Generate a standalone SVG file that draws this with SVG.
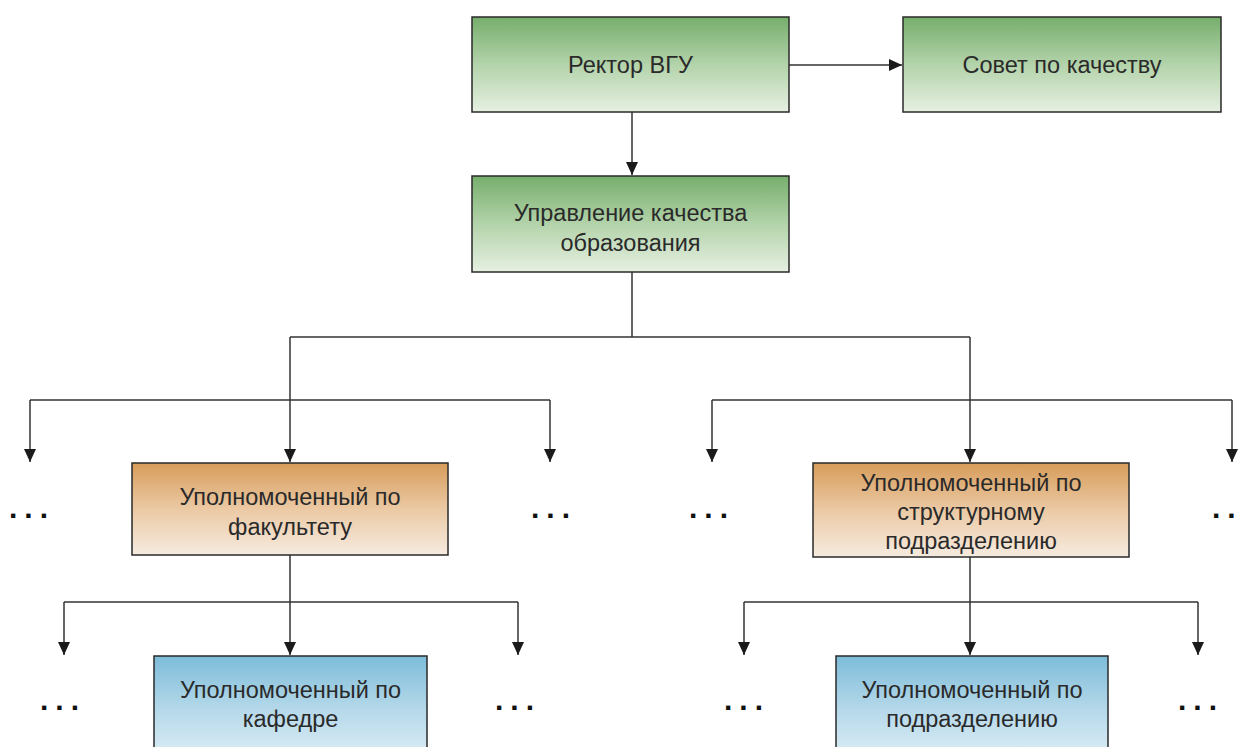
<svg xmlns="http://www.w3.org/2000/svg" width="1242" height="747" viewBox="0 0 1242 747">
<defs>
<linearGradient id="gGreen" x1="0" y1="0" x2="0" y2="1">
<stop offset="0" stop-color="#76ae6c"/><stop offset="0.5" stop-color="#b3d3aa"/><stop offset="1" stop-color="#e6f0e2"/>
</linearGradient>
<linearGradient id="gOrange" x1="0" y1="0" x2="0" y2="1">
<stop offset="0" stop-color="#d79c5a"/><stop offset="0.5" stop-color="#ebc9a4"/><stop offset="1" stop-color="#f6ebe0"/>
</linearGradient>
<linearGradient id="gBlue" x1="0" y1="0" x2="0" y2="1">
<stop offset="0" stop-color="#7dbcd9"/><stop offset="0.5" stop-color="#b6d9ea"/><stop offset="1" stop-color="#e2f0f7"/>
</linearGradient>
<marker id="arr" viewBox="0 0 13 12" refX="13" refY="6" markerWidth="13" markerHeight="12" markerUnits="userSpaceOnUse" orient="auto">
<path d="M0,0 L13,6 L0,12 Z" fill="#1a1a1a"/>
</marker>
<style>
.box{stroke:#2a2a2a;stroke-width:1.5}
.t{font-family:"Liberation Sans",Arial,sans-serif;font-size:23.5px;fill:#2a2a2a;text-anchor:middle}
.d{font-family:"Liberation Sans",Arial,sans-serif;font-size:30px;font-weight:bold;fill:#111;letter-spacing:7px}
.c{stroke:#333;stroke-width:1.5;fill:none}
.a{stroke:#333;stroke-width:1.5;fill:none;marker-end:url(#arr)}
</style>
</defs>
<rect width="1242" height="747" fill="#ffffff"/>
<g id="connectors">
<line class="a" x1="789" y1="65" x2="902" y2="65"/>
<line class="a" x1="632" y1="112" x2="632" y2="175"/>
<line class="c" x1="632" y1="272" x2="632" y2="337"/>
<line class="c" x1="290" y1="337" x2="970" y2="337"/>
<line class="a" x1="290" y1="337" x2="290" y2="462"/>
<line class="a" x1="970" y1="337" x2="970" y2="462"/>
<line class="c" x1="30" y1="400" x2="550" y2="400"/>
<line class="a" x1="30" y1="400" x2="30" y2="462"/>
<line class="a" x1="550" y1="400" x2="550" y2="462"/>
<line class="c" x1="712" y1="400" x2="1232" y2="400"/>
<line class="a" x1="712" y1="400" x2="712" y2="462"/>
<line class="a" x1="1232" y1="400" x2="1232" y2="462"/>
<line class="a" x1="290" y1="555" x2="290" y2="655"/>
<line class="c" x1="64" y1="602" x2="518" y2="602"/>
<line class="a" x1="64" y1="602" x2="64" y2="655"/>
<line class="a" x1="518" y1="602" x2="518" y2="655"/>
<line class="a" x1="970" y1="557" x2="970" y2="655"/>
<line class="c" x1="744" y1="602" x2="1198" y2="602"/>
<line class="a" x1="744" y1="602" x2="744" y2="655"/>
<line class="a" x1="1198" y1="602" x2="1198" y2="655"/>
</g>
<g id="rector">
<rect class="box" x="472" y="17" width="317" height="95" fill="url(#gGreen)"/>
<text class="t" x="630.5" y="73">Ректор ВГУ</text>
</g>
<g id="sovet">
<rect class="box" x="903" y="17" width="318" height="95" fill="url(#gGreen)"/>
<text class="t" x="1062" y="73">Совет по качеству</text>
</g>
<g id="upravlenie">
<rect class="box" x="472" y="176" width="317" height="96" fill="url(#gGreen)"/>
<text class="t" x="630.5" y="221">Управление качества</text>
<text class="t" x="630.5" y="251">образования</text>
</g>
<g id="fakultet">
<rect class="box" x="132" y="463" width="316" height="92" fill="url(#gOrange)"/>
<text class="t" x="290" y="505">Уполномоченный по</text>
<text class="t" x="290" y="535">факультету</text>
</g>
<g id="struktura">
<rect class="box" x="813" y="463" width="316" height="94" fill="url(#gOrange)"/>
<text class="t" x="971" y="491">Уполномоченный по</text>
<text class="t" x="971" y="520">структурному</text>
<text class="t" x="971" y="549">подразделению</text>
</g>
<g id="kafedra">
<rect class="box" x="154" y="656" width="273" height="110" fill="url(#gBlue)"/>
<text class="t" x="290.5" y="698">Уполномоченный по</text>
<text class="t" x="290.5" y="727">кафедре</text>
</g>
<g id="podrazdelenie">
<rect class="box" x="836" y="656" width="272" height="110" fill="url(#gBlue)"/>
<text class="t" x="972" y="698">Уполномоченный по</text>
<text class="t" x="972" y="727">подразделению</text>
</g>
<g id="dots">
<text class="d" x="9" y="518">...</text>
<text class="d" x="531" y="518">...</text>
<text class="d" x="689" y="518">...</text>
<text class="d" x="1212" y="518">...</text>
<text class="d" x="40" y="710">...</text>
<text class="d" x="495" y="710">...</text>
<text class="d" x="724" y="710">...</text>
<text class="d" x="1178" y="710">...</text>
</g>
</svg>
